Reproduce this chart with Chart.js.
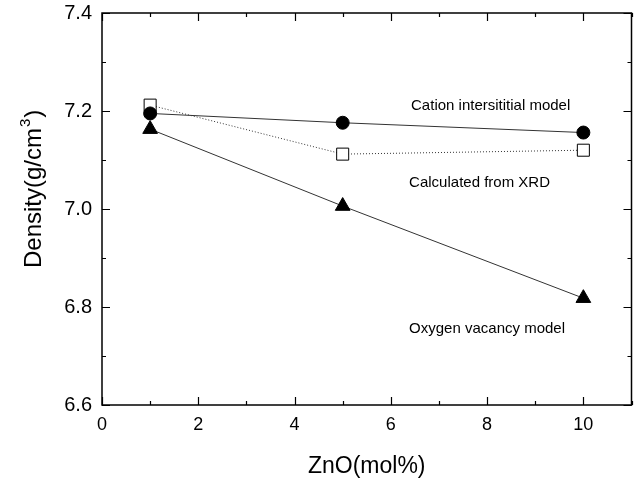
<!DOCTYPE html>
<html>
<head>
<meta charset="utf-8">
<script src="https://cdn.jsdelivr.net/npm/chart.js@4"></script>
<style>
  html, body { margin: 0; padding: 0; background: #fff; }
  #wrap { width: 641px; height: 482px; }
</style>
</head>
<body>
<div id="wrap"><canvas id="densityChart" width="641" height="482"></canvas></div>
<script>
// --- data ---
const zno = [1, 5, 10];
const cationModel = [7.195, 7.176, 7.156];
const xrdCalc = [7.212, 7.112, 7.120];
const oxygenModel = [7.163, 7.006, 6.818];

const xTicks = [0, 2, 4, 6, 8, 10];
const yTicks = [6.6, 6.8, 7.0, 7.2, 7.4];

// annotation text, anchored in data units
const notes = [
  { text: 'Cation intersititial model', x: 6.42, y: 7.210 },
  { text: 'Calculated from XRD', x: 6.38, y: 7.053 },
  { text: 'Oxygen vacancy model', x: 6.38, y: 6.755 }
];

const FONT = "'Liberation Sans', Arial, sans-serif";

function toPts(ys) { return zno.map((x, i) => ({ x: x, y: ys[i] })); }

// inward ticks on all four sides, y title with superscript, text notes
const frameTicks = {
  id: 'frameTicks',
  afterDraw(chart) {
    const { ctx, chartArea: a, scales: { x, y } } = chart;
    ctx.save();
    ctx.strokeStyle = '#000';
    ctx.lineWidth = 1.2;
    ctx.beginPath();
    for (let v = 0; v <= 11; v++) {
      const px = Math.round(x.getPixelForValue(v)) + 0.5;
      const len = v % 2 === 0 ? 8 : 4;
      ctx.moveTo(px, a.bottom); ctx.lineTo(px, a.bottom - len);
      ctx.moveTo(px, a.top); ctx.lineTo(px, a.top + len);
    }
    for (let k = 0; k <= 8; k++) {
      const v = 6.6 + k * 0.1;
      const py = Math.round(y.getPixelForValue(v)) + 0.5;
      const len = k % 2 === 0 ? 8 : 4;
      ctx.moveTo(a.left, py); ctx.lineTo(a.left + len, py);
      ctx.moveTo(a.right, py); ctx.lineTo(a.right - len, py);
    }
    ctx.stroke();
    ctx.lineWidth = 1.5;
    ctx.strokeRect(a.left, a.top, a.right - a.left, a.bottom - a.top);

    ctx.fillStyle = '#000';
    ctx.font = '15px ' + FONT;
    ctx.textAlign = 'left';
    ctx.textBaseline = 'middle';
    notes.forEach(n => {
      ctx.fillText(n.text, x.getPixelForValue(n.x), y.getPixelForValue(n.y));
    });

    // y axis title: Density(g/cm^3)
    ctx.translate(41, 268);
    ctx.rotate(-Math.PI / 2);
    ctx.textBaseline = 'alphabetic';
    ctx.font = '24px ' + FONT;
    const main = 'Density(g/cm';
    ctx.fillText(main, 0, 0);
    let off = ctx.measureText(main).width;
    ctx.font = '15px ' + FONT;
    ctx.fillText('3', off + 1, -11);
    off += ctx.measureText('3').width + 2;
    ctx.font = '24px ' + FONT;
    ctx.fillText(')', off, 0);
    ctx.restore();
  }
};

const ctx = document.getElementById('densityChart').getContext('2d');
new Chart(ctx, {
  type: 'line',
  data: {
    datasets: [
      {
        label: 'Cation intersititial model',
        data: toPts(cationModel),
        borderColor: '#333', borderWidth: 1,
        pointStyle: 'circle', pointRadius: 6.5,
        pointBackgroundColor: '#000', pointBorderColor: '#000'
      },
      {
        label: 'Calculated from XRD',
        data: toPts(xrdCalc),
        borderColor: '#333', borderWidth: 1, borderDash: [1, 2],
        pointStyle: 'rect', pointRadius: 8.5, pointBorderWidth: 1,
        pointBackgroundColor: '#fff', pointBorderColor: '#000'
      },
      {
        label: 'Oxygen vacancy model',
        data: toPts(oxygenModel),
        borderColor: '#333', borderWidth: 1,
        pointStyle: 'triangle', pointRadius: 8.5,
        pointBackgroundColor: '#000', pointBorderColor: '#000'
      }
    ]
  },
  options: {
    responsive: false,
    animation: false,
    layout: { padding: { top: 13, right: 8, left: 0, bottom: 0 } },
    plugins: { legend: { display: false }, tooltip: { enabled: false } },
    scales: {
      x: {
        type: 'linear', min: 0, max: 11,
        afterBuildTicks: s => { s.ticks = xTicks.map(v => ({ value: v })); },
        afterFit: s => { s.height = 77; s.paddingLeft = 0; s.paddingRight = 0; },
        grid: { display: false, drawTicks: false },
        border: { display: false },
        ticks: { color: '#000', font: { family: FONT, size: 18 }, padding: 9, maxRotation: 0 },
        title: { display: true, text: 'ZnO(mol%)', color: '#000', font: { family: FONT, size: 23 }, padding: { top: 0, bottom: 2 } }
      },
      y: {
        type: 'linear', min: 6.6, max: 7.4,
        afterBuildTicks: s => { s.ticks = yTicks.map(v => ({ value: v })); },
        afterFit: s => { s.width = 102; s.paddingTop = 0; s.paddingBottom = 0; },
        grid: { display: false, drawTicks: false },
        border: { display: false },
        ticks: { color: '#000', font: { family: FONT, size: 20 }, padding: 10, callback: v => v.toFixed(1) },
        title: { display: false }
      }
    }
  },
  plugins: [frameTicks]
});
</script>
</body>
</html>
